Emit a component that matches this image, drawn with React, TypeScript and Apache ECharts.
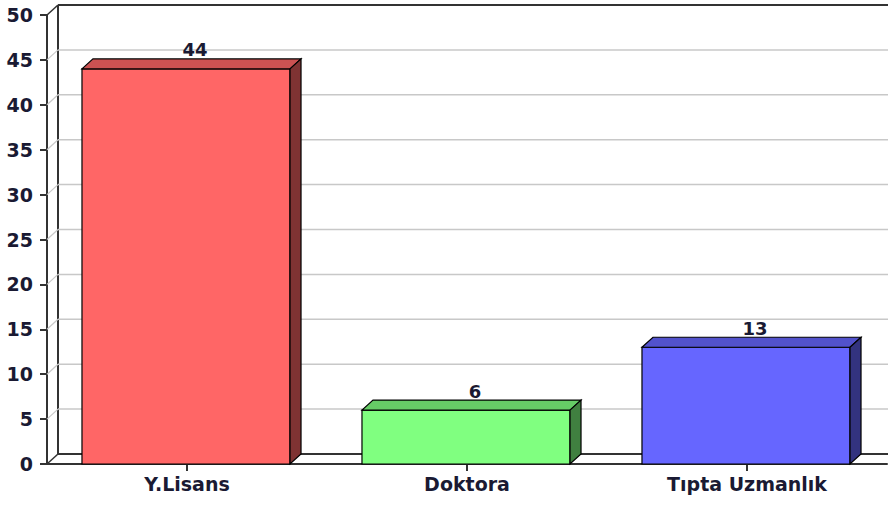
import React, { useEffect, useRef } from "react";
import * as echarts from "echarts";

const categories = ["Y.Lisans", "Doktora", "Tıpta Uzmanlık"];
const values = [44, 6, 13];
const yTicks = [0, 5, 10, 15, 20, 25, 30, 35, 40, 45, 50];
const frontColors = ["#ff6666", "#80ff80", "#6666ff"];
const topColors = ["#cc5252", "#66cc66", "#5252cc"];
const sideColors = ["#7f3333", "#408040", "#33337f"];

const DX = 11;
const DY = -10;
const TEXT = "#1a1a33";
const EDGE = "#333333";
const GRID = "#c8c8c8";

export default function App() {
  const ref = useRef<HTMLDivElement>(null);
  useEffect(() => {
    const chart = echarts.init(ref.current as HTMLDivElement, null, { renderer: "svg" });
    chart.setOption({
      animation: false,
      backgroundColor: "#ffffff",
      grid: { left: 47, top: 15, width: 840, height: 449, containLabel: false },
      xAxis: {
        type: "category",
        data: categories,
        axisLine: { show: true, lineStyle: { color: EDGE, width: 2 } },
        axisTick: { show: true, alignWithLabel: true, length: 7, lineStyle: { color: EDGE, width: 2 } },
        axisLabel: { fontFamily: "DejaVu Sans", fontWeight: "bold", fontSize: 19, color: TEXT, margin: 10 },
        splitLine: { show: false },
      },
      yAxis: {
        type: "value",
        min: 0,
        max: 50,
        interval: 5,
        axisLine: { show: true, lineStyle: { color: EDGE, width: 2 } },
        axisTick: { show: true, length: 7, lineStyle: { color: EDGE, width: 2 } },
        axisLabel: { fontFamily: "DejaVu Sans", fontWeight: "bold", fontSize: 19, color: TEXT, margin: 14 },
        splitLine: { show: false },
      },
      series: [
        {
          type: "custom",
          silent: true,
          data: yTicks.map((v) => [0, v]),
          encode: { x: 0, y: 1 },
          renderItem: (params: any, api: any) => {
            const cs = params.coordSys;
            const x0 = cs.x;
            const x1 = cs.x + cs.width;
            const v = api.value(1);
            const y = api.coord([0, v])[1];
            const edge = v === yTicks[0] || v === yTicks[yTicks.length - 1];
            const children: any[] = [
              {
                type: "line",
                shape: { x1: x0 + DX, y1: y + DY, x2: x1 + DX, y2: y + DY },
                style: { stroke: edge ? EDGE : GRID, lineWidth: edge ? 2 : 1.5 },
              },
              {
                type: "line",
                shape: { x1: x0, y1: y, x2: x0 + DX, y2: y + DY },
                style: { stroke: edge ? EDGE : GRID, lineWidth: edge ? 1.5 : 1.2 },
              },
            ];
            if (params.dataIndex === 0) {
              children.push({
                type: "line",
                shape: { x1: x0 + DX, y1: cs.y + DY, x2: x0 + DX, y2: cs.y + cs.height + DY },
                style: { stroke: EDGE, lineWidth: 2 },
              });
            }
            return { type: "group", children };
          },
        },
        {
          type: "custom",
          silent: true,
          data: values.map((v, i) => [i, v]),
          encode: { x: 0, y: 1 },
          renderItem: (params: any, api: any) => {
            const i = api.value(0);
            const v = api.value(1);
            const top = api.coord([i, v]);
            const base = api.coord([i, 0]);
            const w = api.size([1, 0])[0] * 0.743;
            const xl = top[0] - w / 2 - 1;
            const xr = xl + w;
            const ty = top[1];
            const by = base[1];
            const stroke = { stroke: "#000000", lineWidth: 1.2 };
            return {
              type: "group",
              children: [
                {
                  type: "rect",
                  shape: { x: xl, y: ty, width: w, height: by - ty },
                  style: { fill: frontColors[i], ...stroke },
                },
                {
                  type: "polygon",
                  shape: { points: [[xl, ty], [xr, ty], [xr + DX, ty + DY], [xl + DX, ty + DY]] },
                  style: { fill: topColors[i], ...stroke },
                },
                {
                  type: "polygon",
                  shape: { points: [[xr, ty], [xr + DX, ty + DY], [xr + DX, by + DY], [xr, by]] },
                  style: { fill: sideColors[i], ...stroke },
                },
                {
                  type: "text",
                  style: {
                    x: top[0] + 8,
                    y: ty + DY,
                    text: String(v),
                    textAlign: "center",
                    textVerticalAlign: "bottom",
                    fontFamily: "DejaVu Sans",
                    fontWeight: "bold",
                    fontSize: 18,
                    fill: TEXT,
                  },
                },
              ],
            };
          },
        },
      ],
    });
    return () => chart.dispose();
  }, []);
  return <div ref={ref} style={{ position: "absolute", left: 0, top: 0, width: 888, height: 505 }} />;
}
